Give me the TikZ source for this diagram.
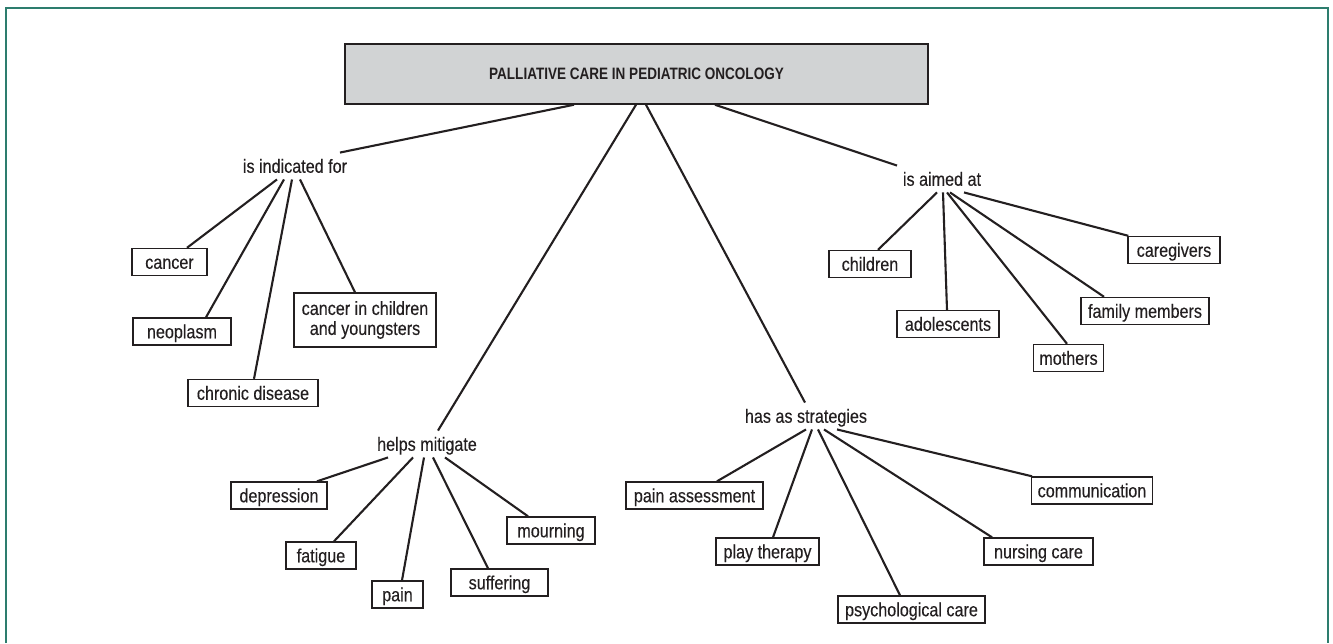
\documentclass[tikz,border=0pt]{standalone}
\usepackage{fontspec}
\setmainfont{Liberation Sans}[FakeStretch=0.85, FakeBold=0.3]
\newfontfamily\titlefont{Liberation Sans}[FakeStretch=0.82]
\usepackage{tikz}
\definecolor{ink}{HTML}{231F20}
\definecolor{titlegray}{HTML}{D1D3D4}
\definecolor{framegreen}{RGB}{45,125,110}

\begin{document}
\begin{tikzpicture}[x=1pt, y=-1pt,
    every node/.style={font=\fontsize{19}{20}\selectfont, text=ink},
    title/.style={draw=ink, fill=titlegray, line width=1.5pt, font=\titlefont\bfseries\fontsize{16.5}{18}\selectfont},
    hub/.style={inner xsep=4pt, inner ysep=5pt, text height=15pt, text depth=1.5pt},
    concept/.style={draw=ink, line width=1.4pt, inner xsep=6pt},
    leaf/.style={concept, inner ysep=5.25pt, text height=15pt, text depth=1.5pt, minimum width=#1},
    link/.style={draw=ink, line width=2.1pt}]
    
    \useasboundingbox (0,0) rectangle (1333,643);
    \draw[framegreen, line width=2pt] (6,643) -- (6,8) -- (1328,8) -- (1328,643);
    
    \node[title, minimum width=583pt, minimum height=60pt] (title) at (636.5,74) {PALLIATIVE CARE IN PEDIATRIC ONCOLOGY};
    
    \node[hub] (indicated) at (295,166) {is indicated for};
    \node[hub] (aimed) at (942,179) {is aimed at};
    \node[hub] (mitigate) at (427,444) {helps mitigate};
    \node[hub] (strategies) at (806,416) {has as strategies};
    
    \node[leaf=75pt] (cancer) at (169.5,262) {cancer};
    \node[leaf=98pt] (neoplasm) at (182,331.5) {neoplasm};
    \node[leaf=130pt] (chronic) at (253,393) {chronic disease};
    \node[concept, align=center, minimum width=142pt, minimum height=54pt] (cancerkids) at (365,320) {cancer in children\\and youngsters};
    
    \node[leaf=82pt] (children) at (870,264) {children};
    \node[leaf=102pt] (adolescents) at (948,324) {adolescents};
    \node[leaf=69pt] (mothers) at (1068.5,358) {mothers};
    \node[leaf=128pt] (family) at (1145,311) {family members};
    \node[leaf=92pt] (caregivers) at (1174,250) {caregivers};
    
    \node[leaf=96pt] (depression) at (279,495.5) {depression};
    \node[leaf=70pt] (fatigue) at (321,555.5) {fatigue};
    \node[leaf=51pt] (pain) at (397.5,594.5) {pain};
    \node[leaf=97pt] (suffering) at (499.5,582.5) {suffering};
    \node[leaf=88pt] (mourning) at (551,530.5) {mourning};
    
    \node[leaf=137pt] (painassess) at (694.5,495.5) {pain assessment};
    \node[leaf=103pt] (playther) at (767.5,551.5) {play therapy};
    \node[leaf=147pt] (psychcare) at (911.5,609.5) {psychological care};
    \node[leaf=109pt] (nursing) at (1038.5,551.5) {nursing care};
    \node[leaf=120pt] (communication) at (1092,490.5) {communication};
    
    \draw[link] ([xshift=-62.5pt]title.south) -- ([xshift=45pt]indicated.north);
    \draw[link] ([xshift=-0.5pt]title.south) -- ([xshift=11pt]mitigate.north);
    \draw[link] ([xshift=9.5pt]title.south) -- ([xshift=-1pt]strategies.north);
    \draw[link] ([xshift=78.5pt]title.south) -- ([xshift=-45pt]aimed.north);
    
    \draw[link] ([xshift=-18pt]indicated.south) -- ([xshift=17.5pt]cancer.north);
    \draw[link] ([xshift=-11pt]indicated.south) -- ([xshift=24pt]neoplasm.north);
    \draw[link] ([xshift=-3pt]indicated.south) -- ([xshift=1pt]chronic.north);
    \draw[link] ([xshift=5pt]indicated.south) -- ([xshift=-10pt]cancerkids.north);
    
    \draw[link] ([xshift=-5pt]aimed.south) -- ([xshift=8pt]children.north);
    \draw[link] ([xshift=1pt]aimed.south) -- ([xshift=-1pt]adolescents.north);
    \draw[link] ([xshift=5pt]aimed.south) -- ([xshift=-1.5pt]mothers.north);
    \draw[link] ([xshift=8pt]aimed.south) -- ([xshift=-41pt]family.north);
    \draw[link] ([xshift=22pt]aimed.south) -- ([xshift=1pt]caregivers.north west);
    
    \draw[link] ([xshift=-39pt]mitigate.south) -- ([xshift=38pt]depression.north);
    \draw[link] ([xshift=-14pt]mitigate.south) -- ([xshift=13pt]fatigue.north);
    \draw[link] ([xshift=-3pt]mitigate.south) -- ([xshift=4.5pt]pain.north);
    \draw[link] ([xshift=6pt]mitigate.south) -- ([xshift=-11.5pt]suffering.north);
    \draw[link] ([xshift=18pt]mitigate.south) -- ([xshift=-23pt]mourning.north);
    
    \draw[link] ([xshift=0pt]strategies.south) -- ([xshift=22.5pt]painassess.north);
    \draw[link] ([xshift=6pt]strategies.south) -- ([xshift=5.5pt]playther.north);
    \draw[link] ([xshift=12pt]strategies.south) -- ([xshift=-11.5pt]psychcare.north);
    \draw[link] ([xshift=18pt]strategies.south) -- ([xshift=-46.5pt]nursing.north);
    \draw[link] ([xshift=31pt]strategies.south) -- ([xshift=1pt]communication.north west);
\end{tikzpicture}
\end{document}
